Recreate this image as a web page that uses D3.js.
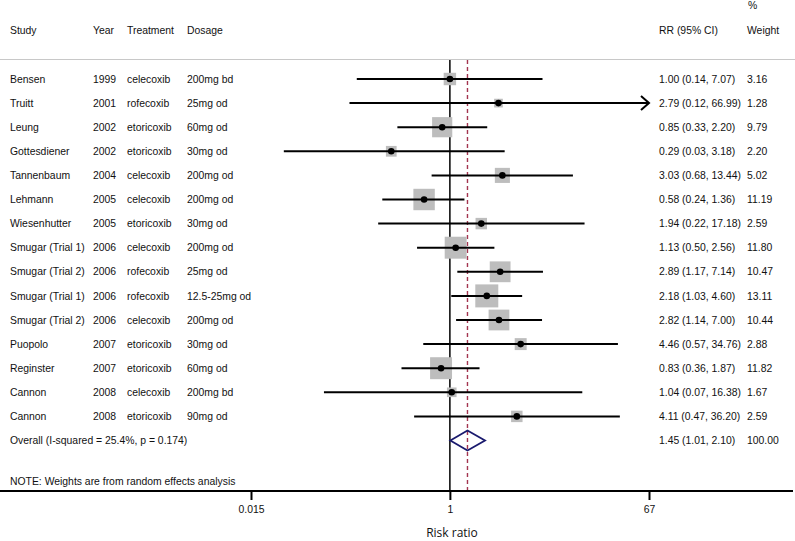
<!DOCTYPE html>
<html><head><meta charset="utf-8">
<script src="https://cdn.jsdelivr.net/npm/d3@7"></script>
<style>body{margin:0;background:#fff}svg{display:block}text{font-family:"Liberation Sans",Arial,sans-serif;font-size:10.4px;fill:#111}</style>
</head><body>
<svg id="c" width="795" height="541"></svg>
<script>
const studies = ["Bensen","Truitt","Leung","Gottesdiener","Tannenbaum","Lehmann","Wiesenhutter","Smugar (Trial 1)","Smugar (Trial 2)","Smugar (Trial 1)","Smugar (Trial 2)","Puopolo","Reginster","Cannon","Cannon"];
const years = ["1999","2001","2002","2002","2004","2005","2005","2006","2006","2006","2006","2007","2007","2008","2008"];
const treatments = ["celecoxib","rofecoxib","etoricoxib","etoricoxib","celecoxib","celecoxib","etoricoxib","celecoxib","rofecoxib","rofecoxib","celecoxib","etoricoxib","etoricoxib","celecoxib","etoricoxib"];
const dosages = ["200mg bd","25mg od","60mg od","30mg od","200mg od","200mg od","30mg od","200mg od","25mg od","12.5-25mg od","200mg od","30mg od","60mg od","200mg bd","90mg od"];
const rr = [1.00,2.79,0.85,0.29,3.03,0.58,1.94,1.13,2.89,2.18,2.82,4.46,0.83,1.04,4.11];
const lo = [0.14,0.12,0.33,0.03,0.68,0.24,0.22,0.50,1.17,1.03,1.14,0.57,0.36,0.07,0.47];
const hi = [7.07,66.99,2.20,3.18,13.44,1.36,17.18,2.56,7.14,4.60,7.00,34.76,1.87,16.38,36.20];
const weights = [3.16,1.28,9.79,2.20,5.02,11.19,2.59,11.80,10.47,13.11,10.44,2.88,11.82,1.67,2.59];
const overall = {label:"Overall  (I-squared = 25.4%, p = 0.174)", rr:1.45, lo:1.01, hi:2.10, w:"100.00"};
const tickValues = [0.015, 1, 67];
const tickLabels = ["0.015","1","67"];
const note = "NOTE: Weights are from random effects analysis";

const svg = d3.select("#c");
const x = d3.scaleLog().domain([0.015, 67]).range([251, 649]);
const n = studies.length;
const y = d3.scaleLinear().domain([0, n]).range([79, 79 + n*24.1]);
const side = d3.scaleLinear().domain([0, Math.sqrt(13.11)]).range([2.2, 23]);
const fmt = d3.format(".2f");

// headers
const hdr = [["Study",10],["Year",93],["Treatment",127],["Dosage",187],["RR (95% CI)",659],["Weight",747]];
hdr.forEach(([t,px]) => svg.append("text").attr("x",px).attr("y",30).attr("dy","0.35em").text(t));
svg.append("text").attr("x",748).attr("y",5).attr("dy","0.35em").text("%");
svg.append("line").attr("x1",0).attr("x2",795).attr("y1",59.5).attr("y2",59.5).attr("stroke","#c8c8c8").attr("stroke-width",1);

// null line and overall dashed line
svg.append("line").attr("x1",x(1)).attr("x2",x(1)).attr("y1",60).attr("y2",491).attr("stroke","#000").attr("stroke-width",1.5);
svg.append("line").attr("x1",x(overall.rr)).attr("x2",x(overall.rr)).attr("y1",60).attr("y2",491)
  .attr("stroke","#a3344f").attr("stroke-width",1.4).attr("stroke-dasharray","4,3");

// rows
const g = svg.append("g");
studies.forEach((s,i) => {
  const yy = y(i);
  const sz = side(Math.sqrt(weights[i]));
  g.append("rect").attr("x",x(rr[i])-sz/2).attr("y",yy-sz/2).attr("width",sz).attr("height",sz).attr("fill","#bdbdbd");
  const arrow = hi[i] >= 66;
  const x2 = arrow ? x(67) : x(hi[i]);
  g.append("line").attr("x1",x(lo[i])).attr("x2",arrow ? x2-1 : x2).attr("y1",yy).attr("y2",yy).attr("stroke","#000").attr("stroke-width",2);
  if (arrow) {
    g.append("path").attr("d",`M${x2-8},${yy-7}L${x2},${yy}L${x2-8},${yy+7}`).attr("fill","none").attr("stroke","#000").attr("stroke-width",2);
  }
  g.append("circle").attr("cx",x(rr[i])).attr("cy",yy).attr("r",3.3).attr("fill","#000");
  const cols = [[s,10],[years[i],93],[treatments[i],127],[dosages[i],187],
    [`${fmt(rr[i])} (${fmt(lo[i])}, ${fmt(hi[i])})`,659],[fmt(weights[i]),747]];
  cols.forEach(([t,px]) => g.append("text").attr("x",px).attr("y",yy).attr("dy","0.35em").text(t));
});

// overall
const yo = y(n);
svg.append("path").attr("d",`M${x(overall.lo)},${yo}L${x(overall.rr)},${yo-10}L${x(overall.hi)},${yo}L${x(overall.rr)},${yo+10}Z`)
  .attr("fill","none").attr("stroke","#1a1a6e").attr("stroke-width",1.8);
svg.append("text").attr("x",10).attr("y",yo).attr("dy","0.35em").text(overall.label);
svg.append("text").attr("x",659).attr("y",yo).attr("dy","0.35em").text(`${fmt(overall.rr)} (${fmt(overall.lo)}, ${fmt(overall.hi)})`);
svg.append("text").attr("x",747).attr("y",yo).attr("dy","0.35em").text(overall.w);
svg.append("text").attr("x",10).attr("y",481).attr("dy","0.35em").text(note);

// axis
svg.append("line").attr("x1",0).attr("x2",793).attr("y1",491).attr("y2",491).attr("stroke","#000").attr("stroke-width",2);
const ax = svg.append("g").attr("transform","translate(0,491)")
  .call(d3.axisBottom(x).tickValues(tickValues).tickFormat((d,i)=>tickLabels[i]).tickSize(9).tickPadding(6));
ax.select(".domain").remove();
ax.selectAll(".tick line").attr("stroke","#000").attr("stroke-width",2);
ax.selectAll(".tick text").style("font-family","'Liberation Sans',Arial,sans-serif").style("font-size","10.4px").attr("fill","#111");
svg.append("text").attr("x",452).attr("y",533).attr("dy","0.35em").attr("text-anchor","middle")
  .style("font-family","'Open Sans',sans-serif").style("font-size","12px").text("Risk ratio");
</script>
</body></html>
